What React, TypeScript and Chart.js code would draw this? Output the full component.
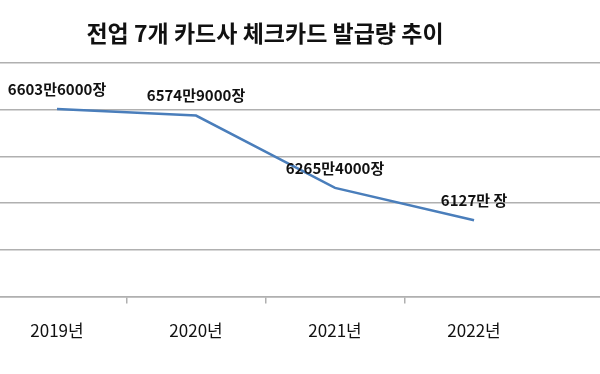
import React, { useEffect, useRef } from "react";
import { Chart, registerables } from "chart.js";

Chart.register(...registerables);

const TITLE = "전업 7개 카드사 체크카드 발급량 추이";
const YEARS = ["2019년", "2020년", "2021년", "2022년"];
const CARDS = [66036000, 65749000, 62654000, 61270000];
const VALUE_LABELS = ["6603만6000장", "6574만9000장", "6265만4000장", "6127만 장"];
const Y_MIN = 58000000;
const Y_MAX = 68000000;
const Y_STEP = 2000000;

const FONT = "'Noto Sans CJK KR', 'Noto Sans', sans-serif";
const GRID = "#b0b0b0";
const LINE = "#4a7ebb";

const titlePlugin = {
  id: "titleText",
  afterDraw(chart: any) {
    const ctx = chart.ctx;
    ctx.save();
    ctx.font = `bold 23px ${FONT}`;
    ctx.fillStyle = "#111";
    ctx.textAlign = "center";
    ctx.textBaseline = "middle";
    ctx.fillText(TITLE, 265, 33);
    ctx.restore();
  },
};

const valueLabelPlugin = {
  id: "valueLabels",
  afterDatasetsDraw(chart: any) {
    const ctx = chart.ctx;
    const meta = chart.getDatasetMeta(0);
    ctx.save();
    ctx.font = `bold 15px ${FONT}`;
    ctx.fillStyle = "#111";
    ctx.textAlign = "center";
    ctx.textBaseline = "middle";
    meta.data.forEach((pt: any, i: number) => {
      ctx.fillText(VALUE_LABELS[i], pt.x, pt.y - 20);
    });
    ctx.restore();
  },
};

export default function App() {
  const ref = useRef<HTMLCanvasElement>(null);
  useEffect(() => {
    if (!ref.current) return;
    const chart = new Chart(ref.current, {
      type: "line",
      data: {
        datasets: [
          {
            data: CARDS.map((v, i) => ({ x: i, y: v })),
            borderColor: LINE,
            borderWidth: 2.5,
            pointRadius: 0,
            tension: 0,
            fill: false,
          },
        ],
      },
      options: {
        animation: false,
        responsive: true,
        maintainAspectRatio: false,
        layout: { padding: { top: 63, left: 0, right: 0, bottom: 16 } },
        plugins: { legend: { display: false }, title: { display: false }, tooltip: { enabled: false } },
        scales: {
          x: {
            type: "linear",
            min: -0.41,
            max: 3.906,
            afterBuildTicks: (scale: any) => {
              scale.ticks = [0, 0.5, 1, 1.5, 2, 2.5, 3].map((v) => ({ value: v }));
            },
            ticks: {
              autoSkip: false,
              maxRotation: 0,
              padding: 17,
              color: "#111",
              font: { family: FONT, size: 17 },
              callback: (v: any) => (Number.isInteger(v) ? YEARS[v] : ""),
            },
            grid: {
              drawOnChartArea: false,
              drawTicks: true,
              tickLength: 7,
              lineWidth: 1.5,
              color: (c: any) => (c.tick && c.tick.value % 1 !== 0 ? GRID : "rgba(0,0,0,0)"),
            },
            border: { display: true, color: GRID, width: 1.5 },
          },
          y: {
            min: Y_MIN,
            max: Y_MAX,
            ticks: { display: false, stepSize: Y_STEP },
            grid: { color: GRID, lineWidth: 1.5, drawTicks: false },
            border: { display: false },
          },
        },
      },
      plugins: [titlePlugin, valueLabelPlugin],
    });
    return () => chart.destroy();
  }, []);
  return (
    <div style={{ position: "absolute", left: 0, top: 0, width: 600, height: 374, background: "#fff" }}>
      <canvas ref={ref} />
    </div>
  );
}
